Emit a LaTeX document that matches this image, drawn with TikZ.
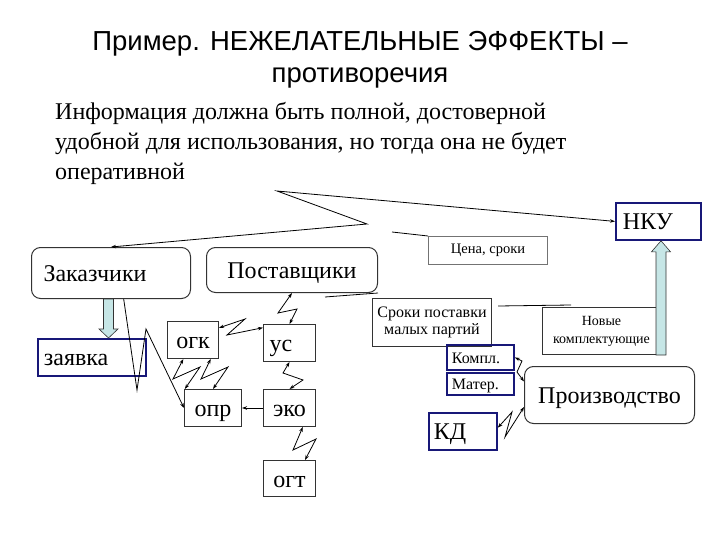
\documentclass[tikz,border=0pt]{standalone}
\usepackage{fontspec}
\setmainfont{Liberation Serif}
\newfontfamily\titlefont{Liberation Sans}
\usetikzlibrary{arrows.meta,calc}
\definecolor{navy}{RGB}{24,24,120}
\definecolor{arrowfill}{RGB}{198,230,230}
\def\fatarrow#1#2#3{
  % 1: start
  % 2: tip
  % 3: head length (signed)
  \draw[fill=arrowfill,draw=black!80,line width=0.6pt] let \p1=(#1), \p2=(#2) in
    (\x1-5pt,\y1) -- (\x1-5pt,{\y2+#3}) -- (\x1-9.5pt,{\y2+#3}) -- (\x1,\y2)
    -- (\x1+9.5pt,{\y2+#3}) -- (\x1+5pt,{\y2+#3}) -- (\x1+5pt,\y1) -- cycle;
}

\begin{document}
\begin{tikzpicture}[x=1pt,y=-1pt,
    box/.style={draw=black!80,line width=1pt,anchor=north west,inner sep=0pt,
      font=\fontsize{24}{28}\selectfont,text height=17.5pt,text depth=0.5pt},
    rbox/.style={box,rounded corners=9pt},
    nbox/.style={box,draw=navy,line width=1.8pt},
    small/.style={font=\fontsize{14.5}{17}\selectfont,align=center,text height=,text depth=},
    tag/.style={font=\fontsize{16}{18}\selectfont,text height=11.5pt,text depth=0pt},
    lefty/.style={align=left,text width=#1},
    bolt/.style={line width=0.8pt,{Stealth[length=5pt,width=3.5pt]}-{Stealth[length=5pt,width=3.5pt]}},
    conn/.style={line width=0.8pt}]
  \useasboundingbox (0,0) rectangle (720,540);

  \node[font=\titlefont\fontsize{27.5}{32}\selectfont,align=center] (title) at (360,60)
    {Пример. НЕЖЕЛАТЕЛЬНЫЕ ЭФФЕКТЫ –\\противоречия};
  \node[font=\fontsize{24}{30}\selectfont,align=left,anchor=north west,inner sep=0pt] (info) at (55,102)
    {Информация должна быть полной, достоверной\\
     удобной для использования, но тогда она не будет\\
     оперативной};

  % left part
  \node[rbox,lefty=135pt,inner xsep=12pt,minimum height=51pt] (zak) at (31,247) {Заказчики};
  \node[rbox,minimum width=171pt,minimum height=45pt] (post) at (206,247) {Поставщики};
  \node[nbox,lefty=96pt,inner xsep=6pt,minimum height=37pt] (zay) at (37,338) {заявка};
  \node[box,minimum width=51pt,minimum height=37pt] (ogk) at (167,321) {огк};
  \node[box,lefty=40pt,inner xsep=6pt,minimum height=37pt] (us) at (263,324) {ус};
  \node[box,minimum width=57pt,minimum height=37pt] (opr) at (184,389) {опр};
  \node[box,minimum width=52pt,minimum height=37pt] (eko) at (263,389) {эко};
  \node[box,minimum width=52pt,minimum height=36pt] (ogt) at (263,460) {огт};

  % right part
  \node[box,small,draw=black!55,minimum width=119pt,minimum height=28pt] (cena) at (428,236) {Цена, сроки};
  \node[nbox,lefty=71pt,inner xsep=7pt,minimum height=37pt] (nku) at (615,202) {НКУ};
  \node[box,small,font=\fontsize{16}{17}\selectfont,minimum width=119pt,minimum height=48pt] (sroki) at (372,298)
    {Сроки поставки\\малых партий};
  \node[box,small,font=\fontsize{14}{18}\selectfont,minimum width=118pt,minimum height=47pt] (nov) at (542,307)
    {Новые\\комплектующие};
  \node[nbox,tag,lefty=57pt,inner xsep=5pt,minimum height=25pt] (kompl) at (446,344) {Компл.};
  \node[nbox,tag,lefty=57pt,inner xsep=5pt,minimum height=22pt] (mater) at (446,372) {Матер.};
  \node[rbox,minimum width=170pt,minimum height=57pt] (prod) at (524,366) {Производство};
  \node[nbox,lefty=58pt,inner xsep=5pt,minimum height=37pt] (kd) at (428,412) {КД};

  % block arrows
  \coordinate (zakfoot) at ($(zak.south)+(-2.5,0)$);
  \fatarrow{zakfoot}{zakfoot |- zay.north}{9pt}
  \fatarrow{nov.south east}{nov.south east |- nku.south}{-11pt}

  % zigzag connectors
  \draw[bolt] (zak.north) -- (367,224) -- (277,191) -- (nku.west);
  \draw[bolt] (ogk.25) -- (245,319) -- (227,335) -- (us.150);
  \draw[bolt] (post.south) -- (278,313) -- (297,309) -- (us.north);
  \draw[bolt] (us.south) -- (283,373) -- (303,380) -- (eko.north);
  \draw[bolt] (eko.-55) -- (293,450) -- (316,439) -- (ogt.50);
  \draw[bolt] (ogk.-117) -- (173,379) -- (200,367) -- (opr.146);
  \draw[bolt] (ogk.-47) -- (201,379) -- (228,367) -- (opr.north);
  \draw[conn,-{Stealth[length=5pt,width=3.5pt]}] (zak.-64) -- (137,390) -- (146,329) -- (opr.west);
  \draw[conn,-{Stealth[length=5pt,width=3.5pt]}] (eko.west) -- (opr.east);
  \draw[bolt] (kompl.east) -- (522,361) -- (517,372) -- (prod.171);
  \draw[bolt] (kd.6) -- (512,412) -- (505,437) -- (prod.-172);

  % broken lines
  \draw[conn] (post.south east) -- (325,297);
  \draw[conn] (cena.north west) -- (392,232);
  \draw[conn] ([shift={(6,8)}]sroki.north east) -- ++(73,-1);
\end{tikzpicture}
\end{document}
